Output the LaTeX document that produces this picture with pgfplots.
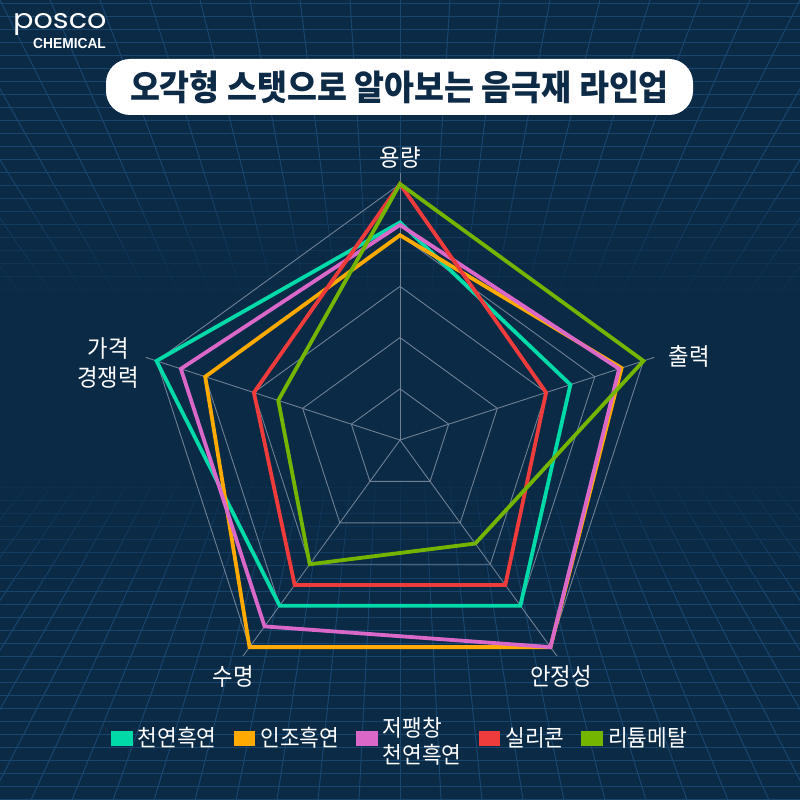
\documentclass[border=0pt]{standalone}
\usepackage{fontspec}
\setmainfont{Noto Sans CJK KR}[FakeStretch=0.93]
\newfontfamily\logofont{Poppins}[FakeStretch=1.12]
\newfontfamily\chemfont{Liberation Sans}[FakeStretch=0.95]
\usepackage{pgfplots}
\pgfplotsset{compat=1.18}
\definecolor{bg}{HTML}{0A2A46}
\definecolor{bgline}{HTML}{19466F}
\definecolor{gridc}{HTML}{6E8094}
\definecolor{titlec}{HTML}{0D2A47}
\definecolor{cyanS}{HTML}{00D9A8}
\definecolor{orangeS}{HTML}{FFAA00}
\definecolor{magentaS}{HTML}{D968C9}
\definecolor{redS}{HTML}{EE3B3B}
\definecolor{greenS}{HTML}{74B500}
\begin{document}
\begin{tikzpicture}[x=1pt,y=1pt]
\useasboundingbox (0,0) rectangle (800,800);
\fill[bg] (0,0) rectangle (800,800);
% ceiling grid
\foreach \k in {0,...,24} {
  \draw[bgline, line width=1pt] (0,{800-4-13*\k}) -- (800,{800-4-13*\k});
}
\foreach \j in {-14,...,14} {
  \draw[bgline, line width=1pt] ({400+50*\j},800) -- ({400+50*\j*(1-330/800)},470);
}
% floor grid
\foreach \k in {0,...,26} {
  \draw[bgline, line width=1pt] (0,{13*\k}) -- (800,{13*\k});
}
\foreach \j in {-22,...,22} {
  \draw[bgline, line width=1pt] ({400+41*\j},0) -- ({400+41*\j*(1-350/800)},350);
}
% fades
\foreach \i in {0,...,13} {
  \fill[bg, opacity={(\i+0.5)/14}] (0,{800-170-10*\i}) rectangle (800,{800-180-10*\i});
}
\fill[bg] (0,{800-310}) rectangle (800,{800-470});
\foreach \i in {0,...,13} {
  \fill[bg, opacity={(\i+0.5)/14}] (0,{800-600+10*\i}) rectangle (800,{800-590+10*\i});
}
% logo
\node[anchor=base west, inner sep=0pt, text=white, font=\logofont\fontsize{27}{27}\selectfont] at (13,{800-29}) {posco};
\node[anchor=base west, inner sep=0pt, text=white, font=\chemfont\bfseries\fontsize{14.5}{15}\selectfont] at (33,{800-49}) {CHEMICAL};
% title
\node[fill=white, rounded corners=24pt, minimum width=587pt, minimum height=56pt, inner sep=0pt, text=titlec, font=\bfseries\fontsize{35}{40}\selectfont] at (399.5,{800-87}) {오각형 스탯으로 알아보는 음극재 라인업};
\begin{axis}[
  at={(0,0)}, anchor=south west, scale only axis,
  width=800pt, height=800pt,
  xmin=-7.8125, xmax=7.8125, ymin=-7.03125, ymax=8.59375,
  hide axis, clip=false, no markers,
  legend columns=5, legend cell align=left,
  legend image code/.code={\fill[#1] (0pt,-6pt) rectangle (18pt,5pt);},
  legend style={at={(0.5,0.0775)}, anchor=center, draw=none, fill=none,
    text=white, font=\fontsize{23}{25}\selectfont, inner sep=0pt, row sep=0pt,
    /tikz/every odd column/.append style={column sep=3pt},
    /tikz/every even column/.append style={column sep=15pt}},
  series/.style={line width=3.8pt, line join=miter, data cs=polar},
]
\pgfplotsinvokeforeach{1,2,3,4,5}{
  \addplot[gridc, line width=0.9pt, forget plot, data cs=polar] coordinates {(90,#1) (18,#1) (-54,#1) (-126,#1) (162,#1)} -- cycle;
}
\pgfplotsinvokeforeach{90,18,-54,-126,162}{
  \addplot[gridc, line width=0.9pt, forget plot, data cs=polar] coordinates {(#1,0) (#1,5.22)};
}
% order: 용량, 출력, 안정성, 수명, 가격 경쟁력
\addplot[series, cyanS] coordinates {(90,4.25) (18,3.5) (-54,4) (-126,4) (162,5)} -- cycle;
\addlegendentry{천연흑연}
\addplot[series, orangeS] coordinates {(90,4) (18,4.55) (-54,5) (-126,5) (162,4)} -- cycle;
\addlegendentry{인조흑연}
\addplot[series, magentaS] coordinates {(90,4.2) (18,4.5) (-54,5) (-126,4.5) (162,4.5)} -- cycle;
\addlegendentry{\raisebox{6pt}{\begin{tabular}{@{}l@{}}저팽창\\천연흑연\end{tabular}}}
\addplot[series, redS] coordinates {(90,5) (18,3) (-54,3.5) (-126,3.5) (162,3)} -- cycle;
\addlegendentry{실리콘}
\addplot[series, greenS] coordinates {(90,5) (18,5) (-54,2.5) (-126,3) (162,2.5)} -- cycle;
\addlegendentry{리튬메탈}
\tikzset{lbl/.style={text=white, inner sep=0pt, font=\fontsize{24}{29}\selectfont}}
\node[lbl] at (axis cs:0,5.527) {용량};
\node[lbl] at (axis cs:5.645,1.64) {출력};
\node[lbl] at (axis cs:3.145,-4.61) {안정성};
\node[lbl] at (axis cs:-3.26,-4.61) {수명};
\node[lbl, align=center] at (axis cs:-5.703,1.504) {가격\\경쟁력};
\end{axis}
\end{tikzpicture}
\end{document}
